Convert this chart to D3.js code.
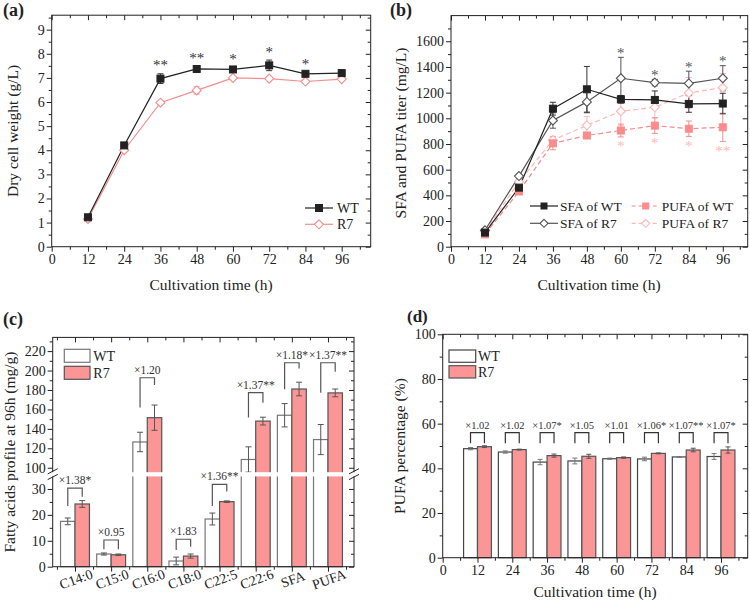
<!DOCTYPE html>
<html><head><meta charset="utf-8">
<script src="https://cdn.jsdelivr.net/npm/d3@7"></script>
<style>body{margin:0;background:#fff}svg{display:block}</style>
</head><body><svg id="chart" width="750" height="603"></svg>
<script>
// ---------- DATA ----------
const hours = [12, 24, 36, 48, 60, 72, 84, 96];
const timeTicks = [0, 12, 24, 36, 48, 60, 72, 84, 96];
const timeMinor = [6, 18, 30, 42, 54, 66, 78, 90, 102];

// (a) dry cell weight
const dcwWT = [1.22, 4.2, 6.97, 7.37, 7.35, 7.52, 7.17, 7.2];
const dcwWTErr = [0.05, 0.08, 0.2, 0.12, 0.08, 0.22, 0.05, 0.05];
const dcwR7 = [1.15, 4.0, 5.97, 6.48, 7.0, 6.97, 6.85, 6.95];
const dcwR7Err = [0.05, 0.05, 0.05, 0.15, 0.06, 0.05, 0.05, 0.04];
const dcwStars = ["", "", "**", "**", "*", "*", "*", ""];
const dcwYTicks = [0, 1, 2, 3, 4, 5, 6, 7, 8, 9];
const dcwYMinor = [0.5, 1.5, 2.5, 3.5, 4.5, 5.5, 6.5, 7.5, 8.5, 9.5];

// (b) SFA and PUFA titer
const sfaWT = [110, 460, 1075, 1226, 1148, 1143, 1112, 1115];
const sfaWTErr = [10, 15, 50, 178, 30, 70, 65, 80];
const sfaR7 = [128, 550, 983, 1128, 1312, 1278, 1272, 1312];
const sfaR7Err = [10, 15, 60, 85, 163, 25, 95, 98];
const pufaWT = [96, 430, 805, 866, 905, 943, 919, 930];
const pufaWTErr = [8, 15, 50, 20, 50, 60, 60, 110];
const pufaR7 = [120, 505, 830, 945, 1055, 1086, 1198, 1238];
const pufaR7Err = [8, 20, 30, 70, 110, 80, 120, 110];
const sfaStars = ["", "", "", "", "*", "*", "*", "*"];
const pufaStars = ["", "", "", "", "*", "*", "*", "**"];
const titerYTicks = [0, 200, 400, 600, 800, 1000, 1200, 1400, 1600];
const titerYMinor = [100, 300, 500, 700, 900, 1100, 1300, 1500, 1700];
const titerSeries = ["SFA of WT", "SFA of R7", "PUFA of WT", "PUFA of R7"];

// (c) fatty acid profile at 96 h
const faCategories = ["C14:0", "C15:0", "C16:0", "C18:0", "C22:5", "C22:6", "SFA", "PUFA"];
const faWT = [17.5, 4.9, 126.5, 2.2, 18.4, 108.5, 154, 129];
const faWTErr = [1.3, 0.4, 10, 1.5, 2.3, 13, 12, 15.5];
const faR7 = [24.2, 4.6, 151.5, 4.1, 25.1, 148, 181, 177];
const faR7Err = [1.3, 0.3, 13, 0.8, 0.3, 4, 7, 4];
const faRatio = ["×1.38*", "×0.95", "×1.20", "×1.83", "×1.36**", "×1.37**", "×1.18*", "×1.37**"];
const faBracketTop = [30.3, 10.3, 192.6, 10.6, 31.8, 177.2, 208, 208];
const faBracketLeft = [23.4, 6.7, 162, 6.4, 23.4, 151.8, 180.7, 177.2];
const faBracketRight = [27, 6.7, 185, 7.7, 29, 166.9, 202, 198.8];
const faLowTicks = [0, 10, 20, 30];
const faLowMinor = [5, 15, 25];
const faHighTicks = [100, 120, 140, 160, 180, 200, 220];
const faHighMinor = [110, 130, 150, 170, 190, 210, 230];

// (d) PUFA percentage
const pctWT = [48.8, 47.3, 42.8, 43.3, 44.3, 44.2, 45.1, 45.3];
const pctWTErr = [0.5, 0.5, 1.2, 1.3, 0.3, 0.8, 0.1, 1.3];
const pctR7 = [49.7, 48.4, 45.7, 45.4, 44.8, 46.7, 48.2, 48.2];
const pctR7Err = [0.4, 0.2, 0.7, 0.9, 0.3, 0.2, 0.8, 1.4];
const pctRatio = ["×1.02", "×1.02", "×1.07*", "×1.05", "×1.01", "×1.06*", "×1.07**", "×1.07*"];
const pctBracketTop = [56, 56, 56, 56, 56, 56, 56, 56];
const pctBracketLeg = [51.2, 51.2, 51.2, 51.2, 51.2, 51.2, 51.2, 51.2];
const pctYTicks = [0, 20, 40, 60, 80, 100];
const pctYMinor = [10, 30, 50, 70, 90];

const strains = ["WT", "R7"];

// ---------- STYLE ----------
const FONT = '"Liberation Serif","Times New Roman",serif';
const INK = "#222";
const PINK = "#f28e8e";
const PINK_FILL = "#fc9696";
const PINK_LIGHT = "#ffb8b8";
const GRAY = "#555";
const svg = d3.select("#chart").attr("font-family", FONT);
svg.append("rect").attr("width", 750).attr("height", 603).attr("fill", "#fff");

function styleAxis(sel, fs) {
  sel.select(".domain").remove();
  sel.selectAll("line").attr("stroke", INK).attr("stroke-width", 1);
  sel.selectAll("text").attr("font-family", FONT).attr("font-size", fs || 14).attr("fill", INK);
}
function axesFrame(x, y, o) {
  const [x0, x1] = x.range(), [yb, yt] = y.range();
  const g = svg.append("g");
  const none = () => "";
  if (o.xMajor) {
    g.append("g").attr("transform", `translate(0,${yb})`)
      .call(d3.axisBottom(x).tickValues(o.xMajor).tickSize(5).tickPadding(2).tickFormat(o.xFmt || d3.format("d"))).call(styleAxis);
    g.append("g").attr("transform", `translate(0,${yt})`)
      .call(d3.axisTop(x).tickValues(o.xMajor).tickSize(-5).tickFormat(none)).call(styleAxis);
  }
  if (o.xMinor) {
    g.append("g").attr("transform", `translate(0,${yb})`)
      .call(d3.axisBottom(x).tickValues(o.xMinor.filter(v => x(v) < x1 - 1)).tickSize(3).tickFormat(none)).call(styleAxis);
    g.append("g").attr("transform", `translate(0,${yt})`)
      .call(d3.axisTop(x).tickValues(o.xMinor.filter(v => x(v) < x1 - 1)).tickSize(-3).tickFormat(none)).call(styleAxis);
  }
  if (o.yMajor) {
    g.append("g").attr("transform", `translate(${x0},0)`)
      .call(d3.axisLeft(y).tickValues(o.yMajor).tickSize(5).tickPadding(2).tickFormat(d3.format("d"))).call(styleAxis);
    g.append("g").attr("transform", `translate(${x1},0)`)
      .call(d3.axisRight(y).tickValues(o.yMajor).tickSize(-5).tickFormat(none)).call(styleAxis);
  }
  if (o.yMinor) {
    const mv = o.yMinor.filter(v => y(v) > yt + 1);
    g.append("g").attr("transform", `translate(${x0},0)`)
      .call(d3.axisLeft(y).tickValues(mv).tickSize(3).tickFormat(none)).call(styleAxis);
    g.append("g").attr("transform", `translate(${x1},0)`)
      .call(d3.axisRight(y).tickValues(mv).tickSize(-3).tickFormat(none)).call(styleAxis);
  }
  if (o.frame !== false)
    g.append("rect").attr("x", x0).attr("y", yt).attr("width", x1 - x0).attr("height", yb - yt)
      .attr("fill", "none").attr("stroke", INK).attr("stroke-width", 1);
  return g;
}
function errBar(g, x, y0, y1, color, cap) {
  cap = cap || 3;
  g.append("line").attr("x1", x).attr("x2", x).attr("y1", y0).attr("y2", y1).attr("stroke", color).attr("stroke-width", 1);
  g.append("line").attr("x1", x - cap).attr("x2", x + cap).attr("y1", y0).attr("y2", y0).attr("stroke", color).attr("stroke-width", 1);
  g.append("line").attr("x1", x - cap).attr("x2", x + cap).attr("y1", y1).attr("y2", y1).attr("stroke", color).attr("stroke-width", 1);
}
function marker(g, type, cx, cy, fill, stroke, s) {
  if (type === "square") {
    g.append("rect").attr("x", cx - s / 2).attr("y", cy - s / 2).attr("width", s).attr("height", s)
      .attr("fill", fill).attr("stroke", stroke).attr("stroke-width", 1);
  } else {
    const h = s / 2;
    g.append("path").attr("d", `M${cx},${cy - h}L${cx + h},${cy}L${cx},${cy + h}L${cx - h},${cy}Z`)
      .attr("fill", fill).attr("stroke", stroke).attr("stroke-width", 1.1);
  }
}
function text(x, y, s, o) {
  o = o || {};
  const t = svg.append("text").attr("x", x).attr("y", y).text(s)
    .attr("font-size", o.fs || 14).attr("fill", o.fill || INK)
    .attr("text-anchor", o.anchor || "start");
  if (o.bold) t.attr("font-weight", "bold");
  if (o.rotate) t.attr("transform", `rotate(${o.rotate},${x},${y})`);
  return t;
}

// ---------- PANEL (a) ----------
{
  const x = d3.scaleLinear().domain([0, 105.6]).range([51.7, 370.7]);
  const y = d3.scaleLinear().domain([0, 9.6]).range([246.7, 15.2]);
  const g = svg.append("g");
  const series = [
    { v: dcwWT, e: dcwWTErr, line: INK, eb: "#333", type: "square", fill: INK, stroke: INK, s: 7 },
    { v: dcwR7, e: dcwR7Err, line: PINK, eb: PINK, type: "diamond", fill: "#fff", stroke: PINK, s: 9 }
  ];
  series.forEach(sr => hours.forEach((h, i) => errBar(g, x(h), y(sr.v[i] - sr.e[i]), y(sr.v[i] + sr.e[i]), sr.eb)));
  series.slice().reverse().forEach(sr => {
    g.append("path").datum(hours.map((h, i) => [x(h), y(sr.v[i])]))
      .attr("d", d3.line()).attr("fill", "none").attr("stroke", sr.line).attr("stroke-width", 1.2);
  });
  series.slice().reverse().forEach(sr => hours.forEach((h, i) => marker(g, sr.type, x(h), y(sr.v[i]), sr.fill, sr.stroke, sr.s)));
  hours.forEach((h, i) => {
    if (dcwStars[i]) text(x(h), y(dcwWT[i] + dcwWTErr[i]) - 10.5 + 7, dcwStars[i], { fs: 15, anchor: "middle", fill: "#333" });
  });
  axesFrame(x, y, { xMajor: timeTicks, xMinor: timeMinor, yMajor: dcwYTicks, yMinor: dcwYMinor });
  series.forEach((sr, k) => {
    const cy = 208 + k * 16.3;
    g.append("line").attr("x1", 305).attr("x2", 333).attr("y1", cy).attr("y2", cy).attr("stroke", sr.line).attr("stroke-width", 1.2);
    marker(g, sr.type, 319, cy, sr.fill, sr.stroke, sr.s);
    text(337, cy + 5, strains[k], { fs: 14 });
  });
  text(18, 131, "Dry cell weight (g/L)", { fs: 15.5, anchor: "middle", rotate: -90 });
  text(211, 290, "Cultivation time (h)", { fs: 15.5, anchor: "middle" });
  text(3, 16, "(a)", { fs: 18, bold: true });
}

// ---------- PANEL (b) ----------
{
  const x = d3.scaleLinear().domain([0, 104.8]).range([451, 747.7]);
  const y = d3.scaleLinear().domain([0, 1800]).range([246.7, 15.6]);
  const g = svg.append("g");
  const series = [
    { v: sfaWT, e: sfaWTErr, line: INK, dash: null, type: "square", fill: INK, stroke: INK, s: 7, eb: "#333" },
    { v: sfaR7, e: sfaR7Err, line: GRAY, dash: null, type: "diamond", fill: "#fff", stroke: GRAY, s: 9, eb: GRAY },
    { v: pufaWT, e: pufaWTErr, line: PINK, dash: "5,3", type: "square", fill: "#fa8c8c", stroke: "#fa8c8c", s: 7, eb: PINK },
    { v: pufaR7, e: pufaR7Err, line: PINK_LIGHT, dash: "5,3", type: "diamond", fill: "#fff", stroke: PINK_LIGHT, s: 9, eb: PINK_LIGHT }
  ];
  const order = [3, 2, 1, 0];
  order.forEach(k => { const sr = series[k]; hours.forEach((h, i) => errBar(g, x(h), y(sr.v[i] - sr.e[i]), y(sr.v[i] + sr.e[i]), sr.eb)); });
  order.forEach(k => {
    const sr = series[k];
    const p = g.append("path").datum(hours.map((h, i) => [x(h), y(sr.v[i])]))
      .attr("d", d3.line()).attr("fill", "none").attr("stroke", sr.line).attr("stroke-width", 1.2);
    if (sr.dash) p.attr("stroke-dasharray", sr.dash);
  });
  order.forEach(k => { const sr = series[k]; hours.forEach((h, i) => marker(g, sr.type, x(h), y(sr.v[i]), sr.fill, sr.stroke, sr.s)); });
  hours.forEach((h, i) => {
    if (sfaStars[i]) text(x(h), y(Math.max(sfaR7[i] + sfaR7Err[i], sfaWT[i] + sfaWTErr[i])) - 7 + 7.5, sfaStars[i], { fs: 15, anchor: "middle", fill: GRAY });
    if (pufaStars[i]) text(x(h), y(pufaWT[i] - pufaWTErr[i]) + 7 + 7.5, pufaStars[i], { fs: 15, anchor: "middle", fill: PINK_LIGHT });
  });
  axesFrame(x, y, { xMajor: timeTicks, xMinor: timeMinor, yMajor: titerYTicks, yMinor: titerYMinor });
  const pos = [[530, 206], [530, 223.3], [631.7, 206], [631.7, 223.3]];
  series.forEach((sr, k) => {
    const [lx, cy] = pos[k];
    const l = g.append("line").attr("x1", lx).attr("x2", lx + 28).attr("y1", cy).attr("y2", cy).attr("stroke", sr.line).attr("stroke-width", 1.2);
    if (sr.dash) l.attr("stroke-dasharray", "4,3");
    marker(g, sr.type, lx + 14, cy, sr.fill, sr.stroke, sr.type === "square" ? 6 : 8);
    text(lx + 30, cy + 5, titerSeries[k], { fs: 13.5 });
  });
  text(406, 133, "SFA and PUFA titer (mg/L)", { fs: 15.5, anchor: "middle", rotate: -90 });
  text(599, 290, "Cultivation time (h)", { fs: 15.5, anchor: "middle" });
  text(390, 16, "(b)", { fs: 18, bold: true });
}

// ---------- PANEL (c) ----------
{
  const x = d3.scaleLinear().domain([-0.617, 7.72]).range([52.7, 354]);
  const yLow = d3.scaleLinear().domain([0, 35]).range([566.7, 476]);
  const yHigh = d3.scaleLinear().domain([95, 234.1]).range([472.6, 337.4]);
  const yf = v => v <= 35 ? yLow(v) : yHigh(v);
  const [x0, x1] = x.range();
  const g = svg.append("g");
  const bw = 0.4;
  faCategories.forEach((c, i) => {
    g.append("rect").attr("x", x(i - bw)).attr("width", x(i) - x(i - bw)).attr("y", yf(faWT[i])).attr("height", yf(0) - yf(faWT[i]))
      .attr("fill", "#fff").attr("stroke", "#777").attr("stroke-width", 1.2);
    g.append("rect").attr("x", x(i)).attr("width", x(i + bw) - x(i)).attr("y", yf(faR7[i])).attr("height", yf(0) - yf(faR7[i]))
      .attr("fill", PINK_FILL).attr("stroke", "#555").attr("stroke-width", 1.2);
    errBar(g, x(i - bw / 2), yf(faWT[i] - faWTErr[i]), yf(faWT[i] + faWTErr[i]), "#555");
    errBar(g, x(i + bw / 2), yf(faR7[i] - faR7Err[i]), yf(faR7[i] + faR7Err[i]), "#555");
    g.append("path").attr("d", `M${x(i - bw / 2)},${yf(faBracketLeft[i])}V${yf(faBracketTop[i])}H${x(i + bw / 2)}V${yf(faBracketRight[i])}`)
      .attr("fill", "none").attr("stroke", "#555").attr("stroke-width", 1.2);
  });
  const none = () => "";
  const ax = svg.append("g");
  const idx = faCategories.map((c, i) => i);
  const mids = [-0.5, 0.5, 1.5, 2.5, 3.5, 4.5, 5.5, 6.5, 7.5];
  ax.append("g").attr("transform", `translate(0,566.7)`).call(d3.axisBottom(x).tickValues(idx).tickSize(5).tickFormat(none)).call(styleAxis);
  ax.append("g").attr("transform", `translate(0,566.7)`).call(d3.axisBottom(x).tickValues(mids).tickSize(3).tickFormat(none)).call(styleAxis);
  ax.append("g").attr("transform", `translate(0,337.4)`).call(d3.axisTop(x).tickValues(idx).tickSize(-5).tickFormat(none)).call(styleAxis);
  ax.append("g").attr("transform", `translate(0,337.4)`).call(d3.axisTop(x).tickValues(mids).tickSize(-3).tickFormat(none)).call(styleAxis);
  [[yLow, faLowTicks, faLowMinor], [yHigh, faHighTicks, faHighMinor]].forEach(([ys, mj, mn]) => {
    ax.append("g").attr("transform", `translate(${x0},0)`).call(d3.axisLeft(ys).tickValues(mj).tickSize(5).tickPadding(2).tickFormat(d3.format("d"))).call(styleAxis);
    ax.append("g").attr("transform", `translate(${x0},0)`).call(d3.axisLeft(ys).tickValues(mn).tickSize(3).tickFormat(none)).call(styleAxis);
    ax.append("g").attr("transform", `translate(${x1},0)`).call(d3.axisRight(ys).tickValues(mj).tickSize(-5).tickFormat(none)).call(styleAxis);
    ax.append("g").attr("transform", `translate(${x1},0)`).call(d3.axisRight(ys).tickValues(mn).tickSize(-3).tickFormat(none)).call(styleAxis);
  });
  ax.append("rect").attr("x", x0).attr("y", 337.4).attr("width", x1 - x0).attr("height", 566.7 - 337.4)
    .attr("fill", "none").attr("stroke", INK).attr("stroke-width", 1);
  // break gap
  ax.append("rect").attr("x", x0 - 8).attr("y", 472.2).attr("width", x1 - x0 + 16).attr("height", 4.2).attr("fill", "#fff");
  [x0, x1].forEach(bx => {
    [471.3, 477].forEach(cy => {
      ax.append("line").attr("x1", bx - 5).attr("x2", bx + 5).attr("y1", cy + 2.6).attr("y2", cy - 2.6).attr("stroke", INK).attr("stroke-width", 1);
    });
  });
  // ratio labels drawn after the break so none is hidden
  faCategories.forEach((c, i) => {
    text(x(i), yf(faBracketTop[i]) - 4, faRatio[i], { fs: 11.5, anchor: "middle", fill: "#333" });
  });
  faCategories.forEach((c, i) => {
    const t = text(x(i) + 1, 584, c, { fs: 14, anchor: "middle" });
    t.attr("transform", `rotate(-20,${x(i) + 1},579)`);
  });
  [["#fff", "#777"], [PINK_FILL, "#555"]].forEach(([f, s], k) => {
    ax.append("rect").attr("x", 64.3).attr("y", 349.3 + k * 17).attr("width", 25.7).attr("height", 13)
      .attr("fill", f).attr("stroke", s).attr("stroke-width", 1.2);
    text(93.3, 361 + k * 17, strains[k], { fs: 14 });
  });
  text(15, 452, "Fatty acids profile at 96h (mg/g)", { fs: 15.5, anchor: "middle", rotate: -90 });
  text(3, 325, "(c)", { fs: 18, bold: true });
}

// ---------- PANEL (d) ----------
{
  const x = d3.scaleLinear().domain([0, 105.2]).range([442.7, 747.7]);
  const y = d3.scaleLinear().domain([0, 100]).range([557.7, 334.3]);
  const g = svg.append("g");
  const bw = 4.8;
  hours.forEach((h, i) => {
    g.append("rect").attr("x", x(h - bw)).attr("width", x(h) - x(h - bw)).attr("y", y(pctWT[i])).attr("height", y(0) - y(pctWT[i]))
      .attr("fill", "#fff").attr("stroke", "#444").attr("stroke-width", 1.2);
    g.append("rect").attr("x", x(h)).attr("width", x(h + bw) - x(h)).attr("y", y(pctR7[i])).attr("height", y(0) - y(pctR7[i]))
      .attr("fill", PINK_FILL).attr("stroke", "#555").attr("stroke-width", 1.2);
    errBar(g, x(h - bw / 2), y(pctWT[i] - pctWTErr[i]), y(pctWT[i] + pctWTErr[i]), "#777", 2.5);
    errBar(g, x(h + bw / 2), y(pctR7[i] - pctR7Err[i]), y(pctR7[i] + pctR7Err[i]), "#555", 2.5);
    g.append("path").attr("d", `M${x(h - bw / 2)},${y(pctBracketLeg[i])}V${y(pctBracketTop[i])}H${x(h + bw / 2)}V${y(pctBracketLeg[i])}`)
      .attr("fill", "none").attr("stroke", "#333").attr("stroke-width", 1.2);
    text(x(h), y(pctBracketTop[i]) - 4, pctRatio[i], { fs: 10.5, anchor: "middle", fill: "#333" });
  });
  axesFrame(x, y, { xMajor: timeTicks, xMinor: timeMinor, yMajor: pctYTicks, yMinor: pctYMinor });
  [["#fff", "#444"], [PINK_FILL, "#555"]].forEach(([f, s], k) => {
    g.append("rect").attr("x", 449).attr("y", 350 + k * 15.7).attr("width", 26.7).attr("height", 12.3)
      .attr("fill", f).attr("stroke", s).attr("stroke-width", 1.2);
    text(478, 361 + k * 15.7, strains[k], { fs: 14 });
  });
  text(405, 446, "PUFA percentage (%)", { fs: 15.5, anchor: "middle", rotate: -90 });
  text(595, 597, "Cultivation time (h)", { fs: 15.5, anchor: "middle" });
  text(407, 322, "(d)", { fs: 17, bold: true });
}
</script></body></html>
